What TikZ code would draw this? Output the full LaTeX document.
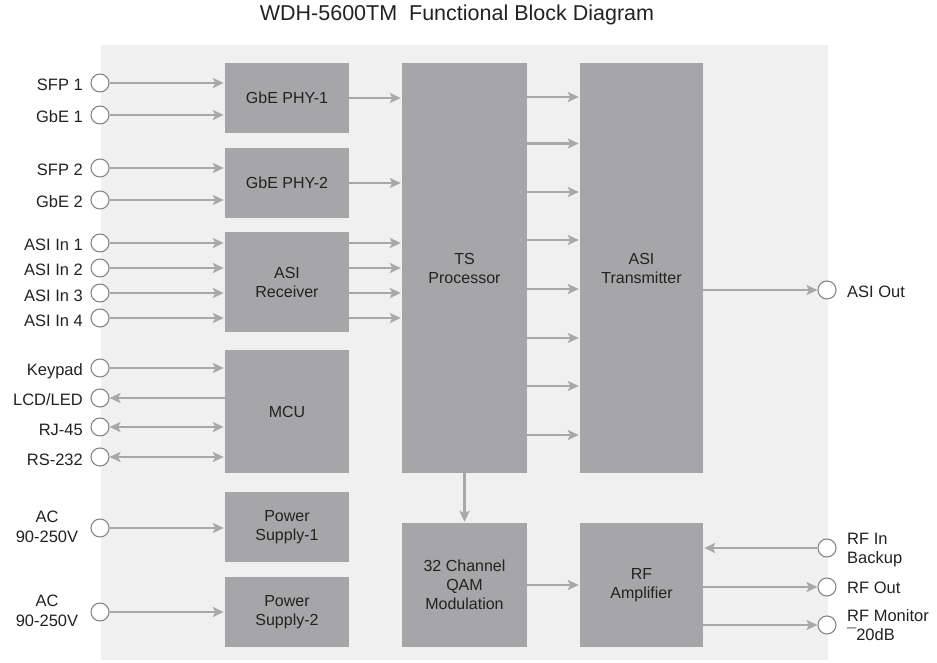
\documentclass[tikz,border=0pt]{standalone}
\usepackage{fontspec}
\setmainfont{Liberation Sans}
\usetikzlibrary{arrows.meta}
\definecolor{panelgray}{RGB}{240,240,240}
\definecolor{blockfill}{RGB}{166,166,168}
\definecolor{arrowgray}{RGB}{168,168,168}
\definecolor{ringgray}{RGB}{135,135,135}
\definecolor{txt}{RGB}{34,34,34}
\begin{document}
\begin{tikzpicture}[x=1pt,y=-1pt,
  blockbox/.style={fill=blockfill, draw=none, align=center, text=txt,
    font=\fontsize{16}{19}\selectfont, inner sep=0pt},
  port/.style={circle, draw=ringgray, line width=1.1pt, fill=white,
    minimum size=18pt, inner sep=0pt},
  lab/.style={text=txt, font=\fontsize{16.5}{19.5}\selectfont, inner sep=0pt},
  tipshape/.tip={Stealth[length=11pt,width=10pt,inset=2.5pt]},
  arr/.style={draw=arrowgray, line width=2.6pt, -tipshape, shorten >=1pt},
  biarr/.style={draw=arrowgray, line width=2.6pt, tipshape-tipshape, shorten >=1pt},
  revarr/.style={draw=arrowgray, line width=2.6pt, tipshape-},
]
\useasboundingbox (0,0) rectangle (937,663);
% title
\node[text=txt, font=\fontsize{21.5}{24}\selectfont, inner sep=0pt] (title) at (457,15)
  {WDH-5600TM\ \ Functional Block Diagram};
% panel
\node[fill=panelgray, draw=none, minimum width=727pt, minimum height=615pt, inner sep=0pt,
  anchor=north west] (panel) at (101,45) {};

% blocks
\node[blockbox, minimum width=124pt, minimum height=70pt] (phy1) at (287,98) {GbE PHY-1};
\node[blockbox, minimum width=124pt, minimum height=70pt] (phy2) at (287,183) {GbE PHY-2};
\node[blockbox, minimum width=124pt, minimum height=100pt] (asirx) at (287,282) {ASI\\Receiver};
\node[blockbox, minimum width=124pt, minimum height=123pt] (mcu) at (287,411.5) {MCU};
\node[blockbox, minimum width=124pt, minimum height=70pt] (ps1) at (287,527) {Power\\Supply-1};
\node[blockbox, minimum width=124pt, minimum height=70pt] (ps2) at (287,612) {Power\\Supply-2};
\node[blockbox, minimum width=125pt, minimum height=410pt] (ts) at (464.5,268) {TS\\Processor};
\node[blockbox, minimum width=123pt, minimum height=410pt] (asitx) at (641.5,268) {ASI\\Transmitter};
\node[blockbox, minimum width=125pt, minimum height=124pt] (qam) at (464.5,585) {32 Channel\\QAM\\Modulation};
\node[blockbox, minimum width=123pt, minimum height=124pt] (rfamp) at (641.5,585) {RF\\Amplifier};

% left ports
\foreach \n/\y in {sfpa/83, gbea/115, sfpb/168, gbeb/200, asia/243, asib/268, asic/293, asid/318,
  keypad/368, lcd/398, rj/427, rs/457, aca/528, acb/612}
  \node[port] (\n) at (100,\y) {};
% right ports
\node[port] (asiout) at (827,290) {};
\node[port] (rfin) at (827,548) {};
\node[port] (rfout) at (827,587) {};
\node[port] (rfmon) at (827,625) {};

% left labels
\node[lab, anchor=base east] (lsfpa) at (83,91) {SFP 1};
\node[lab, anchor=base east] (lgbea) at (83,123) {GbE\ 1};
\node[lab, anchor=base east] (lsfpb) at (83,176) {SFP 2};
\node[lab, anchor=base east] (lgbeb) at (83,208) {GbE\ 2};
\node[lab, anchor=base east] (lasia) at (83,251) {ASI In\ 1};
\node[lab, anchor=base east] (lasib) at (83,276) {ASI In\ 2};
\node[lab, anchor=base east] (lasic) at (83,301) {ASI In\ 3};
\node[lab, anchor=base east] (lasid) at (83,326) {ASI In\ 4};
\node[lab, anchor=base east] (lkey) at (83,375) {Keypad};
\node[lab, anchor=base east] (llcd) at (83,405) {LCD/LED};
\node[lab, anchor=base east] (lrj) at (83,435) {RJ-45};
\node[lab, anchor=base east] (lrs) at (83,465) {RS-232};
\node[lab, align=center] (laca) at (47,527) {AC\\90-250V};
\node[lab, align=center] (lacb) at (47,611) {AC\\90-250V};
% right labels
\node[lab, anchor=base west] (lasiout) at (847,297) {ASI\ Out};
\node[lab, anchor=west, align=left, font=\fontsize{16.5}{18.5}\selectfont] (lrfin) at (847,550) {RF In\\Backup};
\node[lab, anchor=base west] (lrfout) at (847,593) {RF Out};
\node[lab, anchor=west, align=left, font=\fontsize{16.5}{18.5}\selectfont] (lrfmon) at (847,625) {RF Monitor\\¯20dB};

% input arrows
\foreach \n/\b in {sfpa/phy1, gbea/phy1, sfpb/phy2, gbeb/phy2, asia/asirx, asib/asirx,
  asic/asirx, asid/asirx, keypad/mcu, aca/ps1, acb/ps2}
  \draw[arr] (\n) -- (\n -| \b.west);
\draw[revarr] (lcd) -- (lcd -| mcu.west);
\draw[biarr] (rj) -- (rj -| mcu.west);
\draw[biarr] (rs) -- (rs -| mcu.west);

% into TS processor
\draw[arr] (phy1.east) -- (phy1.east -| ts.west);
\draw[arr] (phy2.east) -- (phy2.east -| ts.west);
\foreach \y in {243,268,293,318}
  \draw[arr] (asirx.east |- {0,\y}) -- (ts.west |- {0,\y});

% TS -> ASI Tx
\foreach \y in {97,143.5,192,240,289,338,386,435}
  \draw[arr] (ts.east |- {0,\y}) -- (asitx.west |- {0,\y});

% TS -> QAM, QAM -> RF
\draw[arr] (ts.south) -- (qam.north);
\draw[arr] (qam.east) -- (rfamp.west);

% outputs
\draw[arr, shorten >=0pt] (asiout -| asitx.east) -- (asiout);
\draw[arr] (rfin) -- (rfin -| rfamp.east);
\draw[arr, shorten >=0pt] (rfout -| rfamp.east) -- (rfout);
\draw[arr, shorten >=0pt] (rfmon -| rfamp.east) -- (rfmon);
\end{tikzpicture}
\end{document}
